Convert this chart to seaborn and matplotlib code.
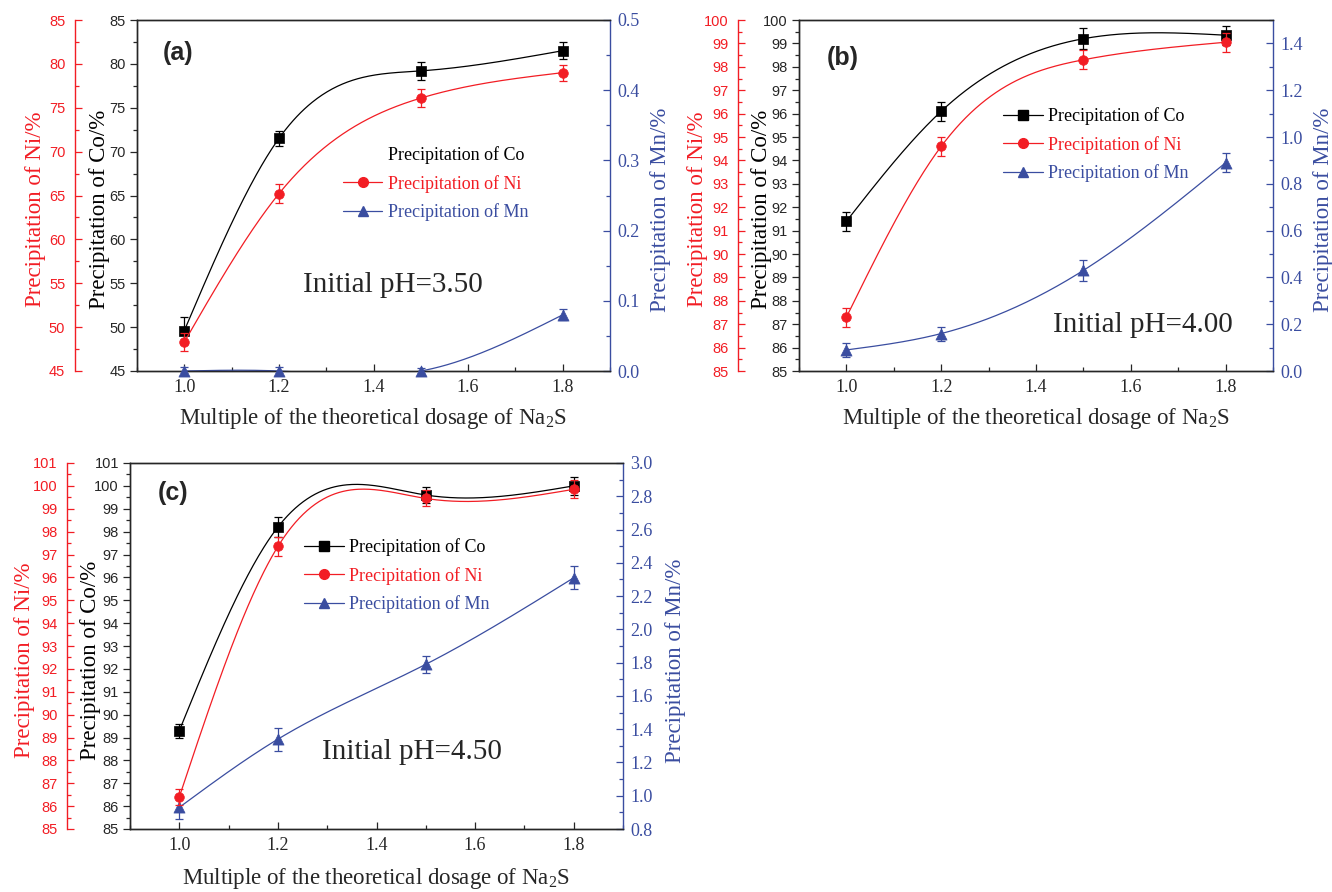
# %% Precipitation of Co / Ni / Mn vs. Na2S dosage, three initial pH values
import numpy as np
import matplotlib
matplotlib.use('Agg')
import matplotlib.pyplot as plt
import seaborn as sns
from matplotlib.ticker import MultipleLocator, FormatStrFormatter
from matplotlib.lines import Line2D

sns.set_style('ticks')
plt.rcParams['font.family'] = ['Liberation Serif', 'DejaVu Serif']
plt.rcParams['mathtext.fontset'] = 'custom'
plt.rcParams['mathtext.rm'] = 'Liberation Serif'

# %% Data
dosage = [1.0, 1.2, 1.5, 1.8]

# (a) initial pH 3.50
co_a = [49.6, 71.5, 79.2, 81.5]
co_a_err = [1.5, 0.9, 1.0, 1.0]
ni_a = [48.3, 65.2, 76.1, 79.0]
ni_a_err = [1.0, 1.1, 1.0, 0.9]
mn_a = [0.0, 0.0, 0.0, 0.08]
mn_a_err = [0.005, 0.006, 0.004, 0.008]

# (b) initial pH 4.00
co_b = [91.4, 96.1, 99.2, 99.35]
co_b_err = [0.4, 0.4, 0.45, 0.4]
ni_b = [87.3, 94.6, 98.3, 99.05]
ni_b_err = [0.4, 0.4, 0.4, 0.4]
mn_b = [0.09, 0.16, 0.43, 0.89]
mn_b_err = [0.03, 0.03, 0.045, 0.04]

# (c) initial pH 4.50
co_c = [89.3, 98.2, 99.6, 100.0]
co_c_err = [0.3, 0.45, 0.35, 0.4]
ni_c = [86.4, 97.35, 99.45, 99.85]
ni_c_err = [0.35, 0.4, 0.35, 0.4]
mn_c = [0.93, 1.34, 1.79, 2.31]
mn_c_err = [0.07, 0.07, 0.05, 0.07]

RED = '#F21D24'
BLUE = '#3A4DA0'
W, H = 1332, 892
fig = plt.figure(figsize=(W / 100, H / 100), dpi=100)


def spline(x, y, n=300):
    # natural cubic spline through the measured points (Origin "spline" connector)
    x = np.asarray(x, float)
    y = np.asarray(y, float)
    k = len(x)
    h = np.diff(x)
    A = np.zeros((k, k))
    r = np.zeros(k)
    A[0, 0] = A[-1, -1] = 1
    for i in range(1, k - 1):
        A[i, i - 1] = h[i - 1]
        A[i, i] = 2 * (h[i - 1] + h[i])
        A[i, i + 1] = h[i]
        r[i] = 3 * ((y[i + 1] - y[i]) / h[i] - (y[i] - y[i - 1]) / h[i - 1])
    c = np.linalg.solve(A, r)
    b = (y[1:] - y[:-1]) / h - h * (2 * c[:-1] + c[1:]) / 3
    d = (c[1:] - c[:-1]) / (3 * h)
    xs = np.linspace(x[0], x[-1], n)
    idx = np.clip(np.searchsorted(x, xs) - 1, 0, k - 2)
    dx = xs - x[idx]
    ys = y[idx] + b[idx] * dx + c[idx] * dx ** 2 + d[idx] * dx ** 3
    return xs, ys


def draw_series(ax, y, err, color, marker, size):
    xs, ys = spline(dosage, y)
    sns.lineplot(x=xs, y=ys, ax=ax, color=color, lw=0.9, sort=False, estimator=None)
    ax.errorbar(dosage, y, yerr=err, fmt='none', ecolor=color, elinewidth=0.9,
                capsize=3, capthick=0.9, clip_on=False, zorder=3)
    sns.scatterplot(x=dosage, y=y, ax=ax, color=color, marker=marker, s=size,
                    edgecolor=color, linewidth=0.5, clip_on=False, zorder=4)


def panel(box, ni_off, ylim, ymaj, ymin, mnlim, mnmaj, mnmin,
          co, co_err, ni, ni_err, mn, mn_err,
          tag, tag_xy, ph, ph_xy, leg_xy, show_co_handle=True):
    left, top, right, bottom = box
    ax = fig.add_axes([left / W, 1 - bottom / H, (right - left) / W, (bottom - top) / H])
    ax_mn = ax.twinx()
    ax_ni = ax.twinx()

    # Ni axis: offset left spine
    ax_ni.spines['left'].set_position(('outward', ni_off * 0.72))
    ax_ni.spines['left'].set_visible(True)
    for s in ['right', 'top', 'bottom']:
        ax_ni.spines[s].set_visible(False)
    ax_ni.yaxis.set_ticks_position('left')
    ax_ni.yaxis.set_label_position('left')

    for a in (ax, ax_mn, ax_ni):
        for s in a.spines.values():
            s.set_linewidth(1.0)

    draw_series(ax, co, co_err, 'black', 's', 58)
    draw_series(ax_mn, mn, mn_err, BLUE, '^', 64)
    draw_series(ax_ni, ni, ni_err, RED, 'o', 48)

    ax.set_xlim(0.9, 1.9)
    ax.xaxis.set_minor_locator(MultipleLocator(0.1))
    ax.set_xticks([1.0, 1.2, 1.4, 1.6, 1.8])
    ax.xaxis.set_major_formatter(FormatStrFormatter('%.1f'))

    for a in (ax, ax_ni):
        a.set_ylim(*ylim)
        a.yaxis.set_major_locator(MultipleLocator(ymaj))
        a.yaxis.set_minor_locator(MultipleLocator(ymin))
    ax_mn.set_ylim(*mnlim)
    ax_mn.yaxis.set_major_locator(MultipleLocator(mnmaj))
    ax_mn.yaxis.set_minor_locator(MultipleLocator(mnmin))
    ax_mn.yaxis.set_major_formatter(FormatStrFormatter('%.1f'))

    ax.tick_params(axis='x', which='both', direction='in', top=False, labelsize=13, pad=6)
    ax.tick_params(axis='x', which='major', length=5, width=0.9)
    ax.tick_params(axis='x', which='minor', length=3, width=0.9)
    ax.tick_params(axis='y', which='both', direction='out', right=False,
                   labelsize=10.5, labelfontfamily='Liberation Sans', pad=3)
    ax.tick_params(axis='y', which='major', length=5, width=0.9)
    ax.tick_params(axis='y', which='minor', length=3, width=0.9)

    ax_ni.tick_params(axis='y', which='both', direction='in', colors=RED,
                      labelsize=10.5, labelfontfamily='Liberation Sans', pad=7)
    ax_ni.tick_params(axis='y', which='major', length=5, width=0.9)
    ax_ni.tick_params(axis='y', which='minor', length=3, width=0.9)
    ax_ni.spines['left'].set_color(RED)

    ax_mn.tick_params(axis='y', which='both', direction='in', colors=BLUE,
                      labelsize=13, pad=5)
    ax_mn.tick_params(axis='y', which='major', length=5, width=0.9)
    ax_mn.tick_params(axis='y', which='minor', length=3, width=0.9)
    ax_mn.spines['right'].set_color(BLUE)
    ax.spines['right'].set_visible(False)

    ax.set_xlabel('Multiple of the theoretical dosage of Na$_\\mathregular{2}$S', fontsize=16.5)
    ax.xaxis.set_label_coords(0.5, -0.1)
    ax.set_ylabel('Precipitation of Co/%', fontsize=16.5, color='black')
    ax.yaxis.set_label_coords(-0.058, 0.46)
    ax_ni.set_ylabel('Precipitation of Ni/%', fontsize=16.5, color=RED)
    ax_ni.yaxis.set_label_coords(-0.193, 0.46)
    ax_mn.set_ylabel('Precipitation of Mn/%', fontsize=16.5, color=BLUE)
    ax_mn.yaxis.set_label_coords(1.085, 0.46)

    ax_ni.text(tag_xy[0], tag_xy[1], tag, transform=ax.transAxes, fontsize=18,
               fontweight='bold', family='Liberation Sans', ha='left', va='center')
    ax_ni.text(ph_xy[0], ph_xy[1], ph, transform=ax.transAxes, fontsize=21,
               ha='center', va='center')

    co_handle = Line2D([], [], color='black', marker='s', markersize=7, lw=0.9)
    if not show_co_handle:
        co_handle = Line2D([], [], color='none', marker='none', lw=0)
    handles = [co_handle,
               Line2D([], [], color=RED, marker='o', markersize=7, lw=0.9),
               Line2D([], [], color=BLUE, marker='^', markersize=7, lw=0.9)]
    labels = ['Precipitation of Co', 'Precipitation of Ni', 'Precipitation of Mn']
    ax_ni.legend(handles, labels, loc='upper left', bbox_to_anchor=leg_xy,
                 bbox_transform=ax.transAxes, frameon=False, fontsize=13,
                 labelcolor=['black', RED, BLUE], handlelength=2.2,
                 handletextpad=0.3, labelspacing=0.6, borderpad=0, borderaxespad=0)
    return ax


panel((137, 20, 610, 371), 62, (45, 85), 5, 2.5, (0, 0.5), 0.1, 0.05,
      co_a, co_a_err, ni_a, ni_a_err, mn_a, mn_a_err,
      '(a)', (0.055, 0.906), 'Initial pH=3.50', (0.541, 0.245), (0.435, 0.641),
      show_co_handle=False)

panel((799, 20, 1273, 371), 61, (85, 100), 1, 0.5, (0, 1.5), 0.2, 0.1,
      co_b, co_b_err, ni_b, ni_b_err, mn_b, mn_b_err,
      '(b)', (0.059, 0.893), 'Initial pH=4.00', (0.726, 0.131), (0.43, 0.752))

panel((130, 463, 623, 829), 63, (85, 101), 1, 0.5, (0.8, 3.0), 0.2, 0.1,
      co_c, co_c_err, ni_c, ni_c_err, mn_c, mn_c_err,
      '(c)', (0.057, 0.919), 'Initial pH=4.50', (0.572, 0.21), (0.353, 0.795))

fig.savefig('out.png', dpi=100, facecolor='white')
